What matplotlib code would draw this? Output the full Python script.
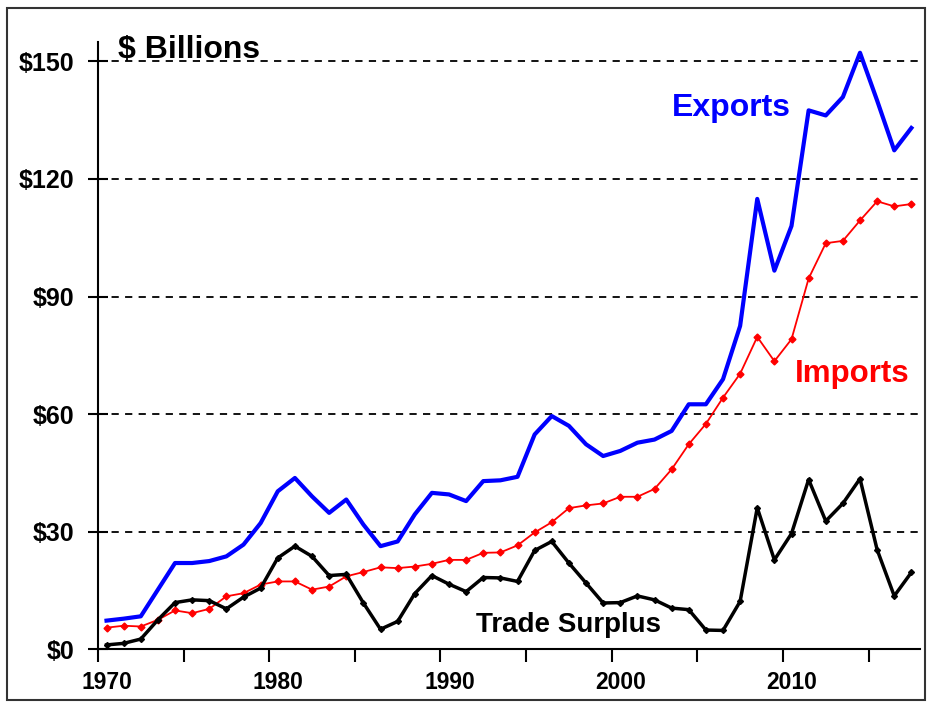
import numpy as np
import matplotlib
matplotlib.use("Agg")
import matplotlib.pyplot as plt
import matplotlib.transforms as mtransforms
from matplotlib.ticker import MultipleLocator, FixedLocator
from matplotlib.patches import Rectangle

plt.rcParams['font.family'] = ['Liberation Sans', 'DejaVu Sans']

# 数据：1970-2017 年（单位：十亿美元）
years = list(range(1970, 2018))

exports = [7.3, 7.8, 8.4, 15.2, 22.0, 22.0, 22.5, 23.7, 26.7, 32.2,
           40.3, 43.7, 39.0, 34.8, 38.2, 31.8, 26.3, 27.5, 34.4, 39.9,
           39.5, 37.8, 42.9, 43.1, 44.0, 54.8, 59.5, 57.0, 52.3, 49.3,
           50.6, 52.7, 53.5, 55.7, 62.5, 62.5, 68.9, 82.5, 114.9, 96.6,
           108.0, 137.5, 136.2, 140.9, 152.2, 140.0, 127.3, 133.0]

imports = [5.5, 6.0, 5.8, 7.5, 9.9, 9.2, 10.3, 13.5, 14.3, 16.5,
           17.3, 17.3, 15.2, 16.0, 18.6, 19.7, 20.9, 20.7, 21.1, 21.8,
           22.8, 22.8, 24.6, 24.7, 26.5, 29.8, 32.4, 36.0, 36.7, 37.2,
           38.9, 38.9, 40.9, 45.9, 52.3, 57.5, 64.2, 70.3, 79.7, 73.5,
           79.1, 94.6, 103.6, 104.2, 109.4, 114.3, 113.0, 113.6]

surplus = [1.1, 1.5, 2.6, 7.5, 11.9, 12.6, 12.4, 10.3, 13.3, 15.6,
           23.3, 26.3, 23.7, 18.8, 19.1, 11.8, 5.1, 7.1, 14.2, 18.8,
           16.6, 14.7, 18.3, 18.2, 17.3, 25.2, 27.5, 22.0, 16.9, 11.8,
           11.9, 13.6, 12.6, 10.5, 10.1, 4.9, 4.8, 12.2, 36.1, 22.8,
           29.5, 43.3, 32.7, 37.2, 43.5, 25.4, 13.6, 19.6]

y_ticks = [0, 30, 60, 90, 120, 150]
y_labels = ['$0', '$30', '$60', '$90', '$120', '$150']
x_ticks = [1970, 1980, 1990, 2000, 2010]

# 数据点位于年份区间中央
xpos = np.array(years) + 0.5

fig = plt.figure(figsize=(9.33, 7.08), dpi=100)
ax = fig.add_axes([0.105, 0.083, 0.881, 0.858])

# 外框
fig.patches.append(Rectangle((0.008, 0.011), 0.983, 0.977, transform=fig.transFigure,
                             fill=False, edgecolor='#333333', linewidth=1.5))

for yv in y_ticks[1:]:
    ax.axhline(yv, color='black', linestyle=(0, (4, 3.5)), linewidth=1.3, zorder=1)

ax.plot(xpos, exports, color='#0000FF', linewidth=3, zorder=3)
ax.plot(xpos, imports, color='#FF0000', linewidth=1.3, marker='D', markersize=3.5, zorder=3)
ax.plot(xpos, surplus, color='black', linewidth=2.5, marker='D', markersize=3, zorder=4)

ax.set_xlim(1970, 2018)
ax.set_ylim(0, 155)

ax.xaxis.set_major_locator(FixedLocator(x_ticks))
ax.xaxis.set_minor_locator(MultipleLocator(5))
ax.set_yticks(y_ticks)
ax.set_yticklabels(y_labels)

for s in ['top', 'right']:
    ax.spines[s].set_visible(False)
for s in ['left', 'bottom']:
    ax.spines[s].set_linewidth(1.5)

ax.tick_params(axis='x', which='both', direction='out', length=9, width=1.5, pad=7)
ax.tick_params(axis='y', direction='inout', length=14, width=1.5, pad=10)

# x 轴标签在原图中略偏右
shift = mtransforms.ScaledTranslation(0.09, 0, fig.dpi_scale_trans)
for lab in ax.get_xticklabels():
    lab.set_fontweight('bold')
    lab.set_fontsize(16.5)
    lab.set_transform(lab.get_transform() + shift)
for lab in ax.get_yticklabels():
    lab.set_fontweight('bold')
    lab.set_fontsize(18)

ax.text(1971.17, 150.9, '$ Billions', fontsize=23, fontweight='bold', ha='left', va='baseline')
ax.text(2003.5, 136.0, 'Exports', fontsize=23, fontweight='bold', color='#0000FF',
        ha='left', va='baseline')
ax.text(2010.7, 68.1, 'Imports', fontsize=22.5, fontweight='bold', color='#FF0000',
        ha='left', va='baseline')
ax.text(1992.1, 4.5, 'Trade Surplus', fontsize=20, fontweight='bold', color='black',
        ha='left', va='baseline')

fig.savefig('out.png', dpi=100)
